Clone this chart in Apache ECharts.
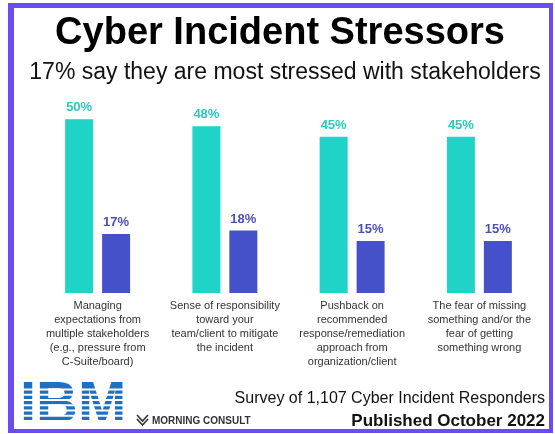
<!DOCTYPE html>
<html>
<head>
<meta charset="utf-8">
<script src="https://cdn.jsdelivr.net/npm/echarts@6/dist/echarts.min.js"></script>
<style>
html,body{margin:0;padding:0;background:#fff;}
#c{width:555px;height:434px;}
</style>
</head>
<body>
<div id="c"></div>
<script>
var categories = [
  "Managing\nexpectations from\nmultiple stakeholders\n(e.g., pressure from\nC-Suite/board)",
  "Sense of responsibility\ntoward your\nteam/client to mitigate\nthe incident",
  "Pushback on\nrecommended\nresponse/remediation\napproach from\norganization/client",
  "The fear of missing\nsomething and/or the\nfear of getting\nsomething wrong"
];
var seriesTeal = [50, 48, 45, 45];
var seriesBlue = [17, 18, 15, 15];

var FONT = "'Liberation Sans', Arial, Helvetica, sans-serif";
var chart = echarts.init(document.getElementById('c'), null, {renderer: 'canvas'});

var stripes = [];
for (var k = 0; k < 7; k++) {
  stripes.push({
    type: 'rect', z: 20,
    shape: {x: 18, y: 388.6 + k * 5.25, width: 112, height: 1.9},
    style: {fill: '#ffffff'}
  });
}

var option = {
  backgroundColor: '#ffffff',
  animation: false,
  grid: {left: 34, right: 12, top: 102, bottom: 141},
  xAxis: {
    type: 'category',
    data: categories,
    axisLine: {show: false},
    axisTick: {show: false},
    axisLabel: {
      interval: 0, margin: 6, color: '#333333', fontSize: 11,
      lineHeight: 14, fontFamily: FONT
    }
  },
  yAxis: {type: 'value', min: 0, max: 55, show: false, splitLine: {show: false}},
  series: [
    {
      type: 'bar', data: seriesTeal, barWidth: 28, barGap: '32%',
      itemStyle: {color: '#1fd3c6'},
      label: {show: true, position: 'top', distance: 5, formatter: '{c}%',
        color: '#2cc9bd', fontWeight: 'bold', fontSize: 13, fontFamily: FONT}
    },
    {
      type: 'bar', data: seriesBlue, barWidth: 28,
      itemStyle: {color: '#4451c9'},
      label: {show: true, position: 'top', distance: 5, formatter: '{c}%',
        color: '#4a50b8', fontWeight: 'bold', fontSize: 13, fontFamily: FONT}
    }
  ],
  graphic: [
    {type: 'rect', z: 30, shape: {x: 8, y: 3, width: 6, height: 430}, style: {fill: '#6a4cf2'}},
    {type: 'rect', z: 30, shape: {x: 8, y: 3, width: 545, height: 5}, style: {fill: '#6a4cf2'}},
    {type: 'rect', z: 30, shape: {x: 549, y: 3, width: 4, height: 430}, style: {fill: '#6a4cf2'}},
    {type: 'rect', z: 30, shape: {x: 8, y: 429, width: 545, height: 4}, style: {fill: '#6a4cf2'}},
    {type: 'text', z: 10, x: 280, y: 34,
      style: {text: 'Cyber Incident Stressors', fill: '#000000', font: 'bold 38px ' + FONT,
        textAlign: 'center', textVerticalAlign: 'middle', align: 'center', verticalAlign: 'middle'}},
    {type: 'text', z: 10, x: 285, y: 73,
      style: {text: '17% say they are most stressed with stakeholders', fill: '#111111', font: '23px ' + FONT,
        textAlign: 'center', textVerticalAlign: 'middle', align: 'center', verticalAlign: 'middle'}},
    {type: 'text', z: 10, x: 20, y: 406,
      style: {text: 'IBM', fill: '#1f70c1', font: 'bold 58px ' + FONT,
        textAlign: 'left', textVerticalAlign: 'middle', align: 'left', verticalAlign: 'middle'}}
  ].concat(stripes).concat([
    {type: 'polyline', z: 10, shape: {points: [[137, 415], [142.5, 421], [148, 415]]},
      style: {stroke: '#333333', lineWidth: 1.6, fill: null}},
    {type: 'polyline', z: 10, shape: {points: [[137, 419], [142.5, 425], [148, 419]]},
      style: {stroke: '#333333', lineWidth: 1.6, fill: null}},
    {type: 'text', z: 10, x: 152, y: 421,
      style: {text: 'MORNING CONSULT', fill: '#333333', font: 'bold 10px ' + FONT,
        textAlign: 'left', textVerticalAlign: 'middle', align: 'left', verticalAlign: 'middle'}},
    {type: 'text', z: 10, x: 545, y: 399,
      style: {text: 'Survey of 1,107 Cyber Incident Responders', fill: '#111111', font: '16px ' + FONT,
        textAlign: 'right', textVerticalAlign: 'middle', align: 'right', verticalAlign: 'middle'}},
    {type: 'text', z: 10, x: 545, y: 421,
      style: {text: 'Published October 2022', fill: '#111111', font: 'bold 17px ' + FONT,
        textAlign: 'right', textVerticalAlign: 'middle', align: 'right', verticalAlign: 'middle'}}
  ])
};
chart.setOption(option);
</script>
</body>
</html>
